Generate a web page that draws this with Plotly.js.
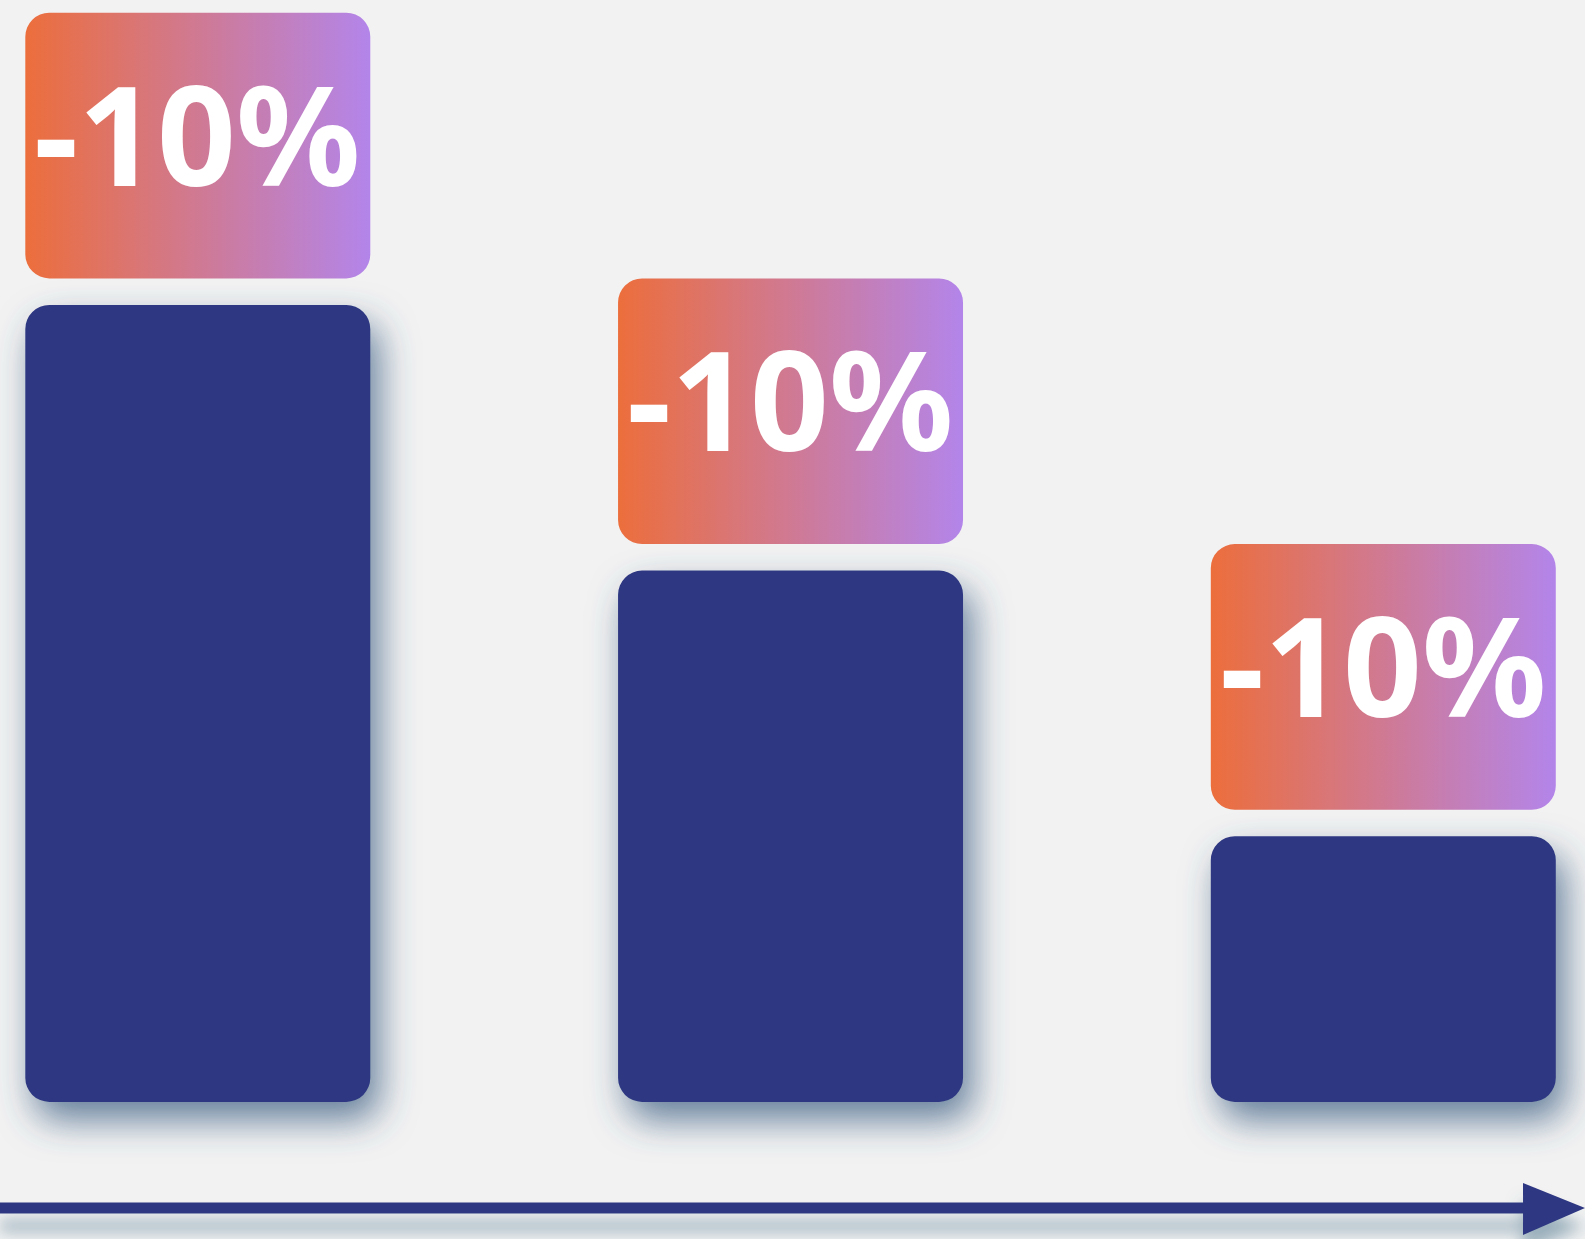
<!DOCTYPE html>
<html><head><meta charset="utf-8">
<script src="https://cdn.plot.ly/plotly-3.0.1.min.js"></script>
<style>html,body{margin:0;padding:0;background:#f2f2f2;overflow:hidden}#chart{width:1585px;height:1239px}</style>
</head><body><div id="chart"></div>
<script>
// ---- data ----
const categories = ['Stage 1', 'Stage 2', 'Stage 3'];
const values = [3, 2, 1];
const changeLabels = ['-10%', '-10%', '-10%'];

// ---- styling ----
const GAP = 0.1, BOX = 1.0, BARW = 0.582;
const NAVY = '#2f3882';

const traces = [
  {type: 'bar', x: categories, y: values, width: BARW,
   marker: {color: NAVY, line: {width: 0}}, hoverinfo: 'skip'},
  {type: 'bar', x: categories, y: values.map(() => BOX), base: values.map(v => v + GAP), width: BARW,
   marker: {color: '#d07592', line: {width: 0}}, hoverinfo: 'skip'}
];

const annotations = categories.map((c, i) => ({
  x: c, y: values[i] + GAP + BOX / 2, xref: 'x', yref: 'y',
  text: changeLabels[i], showarrow: false, xanchor: 'center', yanchor: 'middle', yshift: 14,
  font: {family: 'Noto Sans', size: 138, color: '#ffffff', weight: 700}
}));

const layout = {
  width: 1585, height: 1239,
  margin: {l: 0, r: 0, t: 0, b: 0, pad: 0},
  paper_bgcolor: '#f2f2f2', plot_bgcolor: '#f2f2f2',
  barmode: 'overlay', showlegend: false,
  font: {family: 'Noto Sans'},
  xaxis: {type: 'category', range: [-0.3337, 2.3403], visible: false, fixedrange: true},
  yaxis: {range: [-0.516, 4.148], visible: false, fixedrange: true},
  annotations: annotations,
  shapes: [
    {type: 'line', xref: 'paper', yref: 'paper', x0: 0, x1: 0.97, y0: 0.025, y1: 0.025,
     line: {color: NAVY, width: 11}},
    {type: 'path', xref: 'paper', yref: 'paper', path: 'M0.9609,0.0452 L1,0.025 L0.9609,0.0032 Z',
     fillcolor: NAVY, line: {width: 0}}
  ]
};

Plotly.newPlot('chart', traces, layout, {displayModeBar: false, staticPlot: true}).then(gd => {
  const NS = 'http://www.w3.org/2000/svg';
  const svg = gd.querySelector('.main-svg');
  const defs = document.createElementNS(NS, 'defs');
  defs.innerHTML =
    '<linearGradient id="lg" x1="0" y1="0" x2="1" y2="0">' +
    '<stop offset="0" stop-color="#ec6e3c"/><stop offset="1" stop-color="#b385ea"/></linearGradient>' +
    '<filter id="sh" x="-30%" y="-30%" width="160%" height="160%">' +
    '<feDropShadow dx="9" dy="18" stdDeviation="18" flood-color="#36597f" flood-opacity="0.75"/></filter>' +
    '<filter id="sh2" x="-10%" y="-300%" width="120%" height="900%">' +
    '<feDropShadow dx="0" dy="18" stdDeviation="8" flood-color="#50788f" flood-opacity="0.55"/></filter>';
  svg.insertBefore(defs, svg.firstChild);

  const rr = (x, y, w, h, r) =>
    `M${x + r},${y}H${x + w - r}A${r},${r} 0 0 1 ${x + w},${y + r}V${y + h - r}` +
    `A${r},${r} 0 0 1 ${x + w - r},${y + h}H${x + r}A${r},${r} 0 0 1 ${x},${y + h - r}` +
    `V${y + r}A${r},${r} 0 0 1 ${x + r},${y}Z`;

  const groups = gd.querySelectorAll('.barlayer .trace');
  groups.forEach((g, ti) => {
    g.querySelectorAll('path').forEach(p => {
      const b = p.getBBox();
      if (b.width > 0 && b.height > 0) p.setAttribute('d', rr(b.x, b.y, b.width, b.height, 24));
      if (ti === 1) p.style.fill = 'url(#lg)';
    });
  });
  if (groups[0]) groups[0].setAttribute('filter', 'url(#sh)');
  gd.querySelectorAll('.shapelayer').forEach(s => s.setAttribute('filter', 'url(#sh2)'));
});
</script>
</body></html>
